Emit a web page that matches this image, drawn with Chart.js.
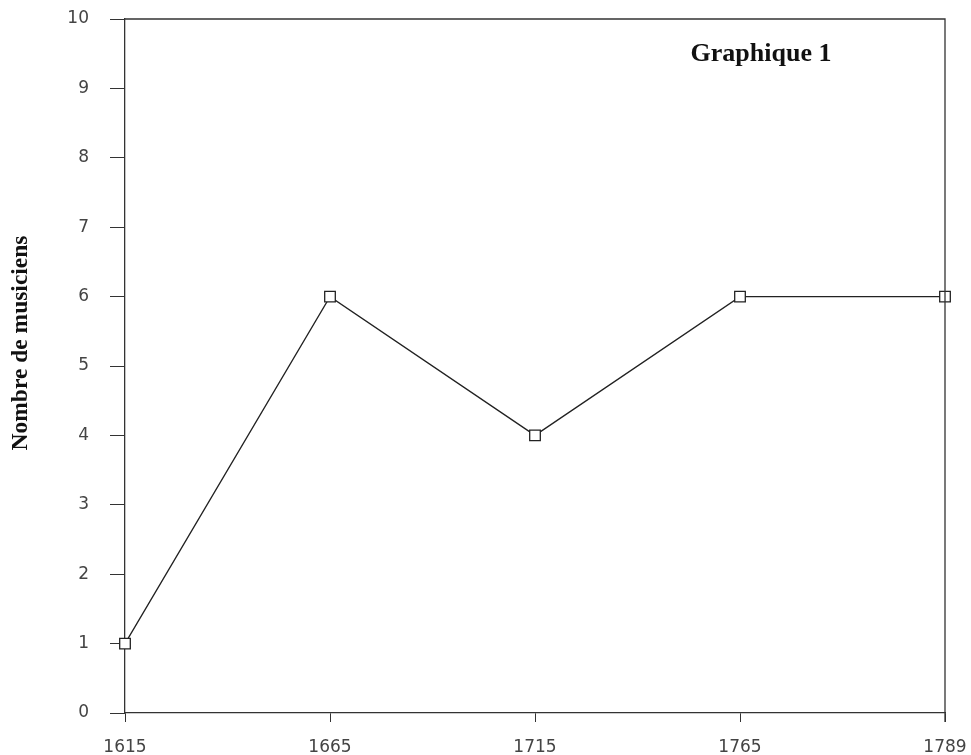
<!DOCTYPE html>
<html>
<head>
<meta charset="utf-8">
<script src="https://cdn.jsdelivr.net/npm/chart.js@4"></script>
<style>
    html, body { margin: 0; padding: 0; background: #fff; }
    #wrap { width: 971px; height: 755px; }
</style>
</head>
<body>
<div id="wrap"><canvas id="musicChart" width="971" height="755"></canvas></div>
<script>
const years = ['1615', '1665', '1715', '1765', '1789'];
const musicians = [1, 6, 4, 6, 6];
const yTicks = [0, 1, 2, 3, 4, 5, 6, 7, 8, 9, 10];
const yTitle = 'Nombre de musiciens';
const caption = 'Graphique 1';

// frame on top and right, the caption inside the plot, and the y title
const boxAndCaption = {
    id: 'boxAndCaption',
    afterDraw(chart) {
        const { ctx, chartArea } = chart;
        ctx.save();
        ctx.strokeStyle = '#333';
        ctx.lineWidth = 1.3;
        ctx.beginPath();
        ctx.moveTo(chartArea.left, chartArea.top);
        ctx.lineTo(chartArea.right, chartArea.top);
        ctx.lineTo(chartArea.right, chartArea.bottom + 9);
        ctx.stroke();

        ctx.fillStyle = '#111';
        ctx.font = 'bold 26px "Liberation Serif", "DejaVu Serif", serif';
        ctx.textAlign = 'center';
        ctx.textBaseline = 'alphabetic';
        ctx.fillText(caption, 761, 61);

        ctx.translate(21, 343);
        ctx.rotate(-Math.PI / 2);
        ctx.font = 'bold 23.5px "Liberation Serif", "DejaVu Serif", serif';
        ctx.textBaseline = 'middle';
        ctx.fillText(yTitle, 0, 0);
        ctx.restore();
    }
};

// the plot box is fixed by the layout padding, not by label overhang
function noOverhang(axis) {
    axis.paddingTop = 0;
    axis.paddingBottom = 0;
    axis.paddingLeft = 0;
    axis.paddingRight = 0;
}

const tickFont = { family: '"DejaVu Sans", Verdana, sans-serif', size: 17 };

const ctx = document.getElementById('musicChart').getContext('2d');
new Chart(ctx, {
    type: 'line',
    data: {
        labels: years,
        datasets: [{
            label: yTitle,
            data: musicians,
            borderColor: '#222',
            borderWidth: 1.3,
            tension: 0,
            fill: false,
            pointStyle: 'rect',
            pointRadius: 7.5,
            pointBorderWidth: 1.3,
            pointBorderColor: '#222',
            pointBackgroundColor: '#fff'
        }]
    },
    options: {
        responsive: false,
        animation: false,
        layout: { padding: { top: 19, right: 26, left: 0, bottom: 0 } },
        plugins: {
            legend: { display: false },
            tooltip: { enabled: false }
        },
        scales: {
            x: {
                type: 'category',
                offset: false,
                grid: {
                    drawOnChartArea: false,
                    drawTicks: true,
                    tickLength: 9,
                    color: '#333'
                },
                border: { display: true, color: '#333', width: 1.3 },
                ticks: {
                    color: '#444',
                    padding: 15,
                    maxRotation: 0,
                    autoSkip: false,
                    font: tickFont
                },
                afterFit(axis) {
                    axis.height = 42;
                    noOverhang(axis);
                }
            },
            y: {
                min: 0,
                max: 10,
                afterBuildTicks(axis) { axis.ticks = yTicks.map(v => ({ value: v })); },
                grid: {
                    drawOnChartArea: false,
                    drawTicks: true,
                    tickLength: 15,
                    color: '#333'
                },
                border: { display: true, color: '#333', width: 1.3 },
                ticks: {
                    color: '#444',
                    padding: 21,
                    font: tickFont
                },
                afterFit(axis) {
                    axis.width = 125;
                    noOverhang(axis);
                }
            }
        }
    },
    plugins: [boxAndCaption]
});
</script>
</body>
</html>
